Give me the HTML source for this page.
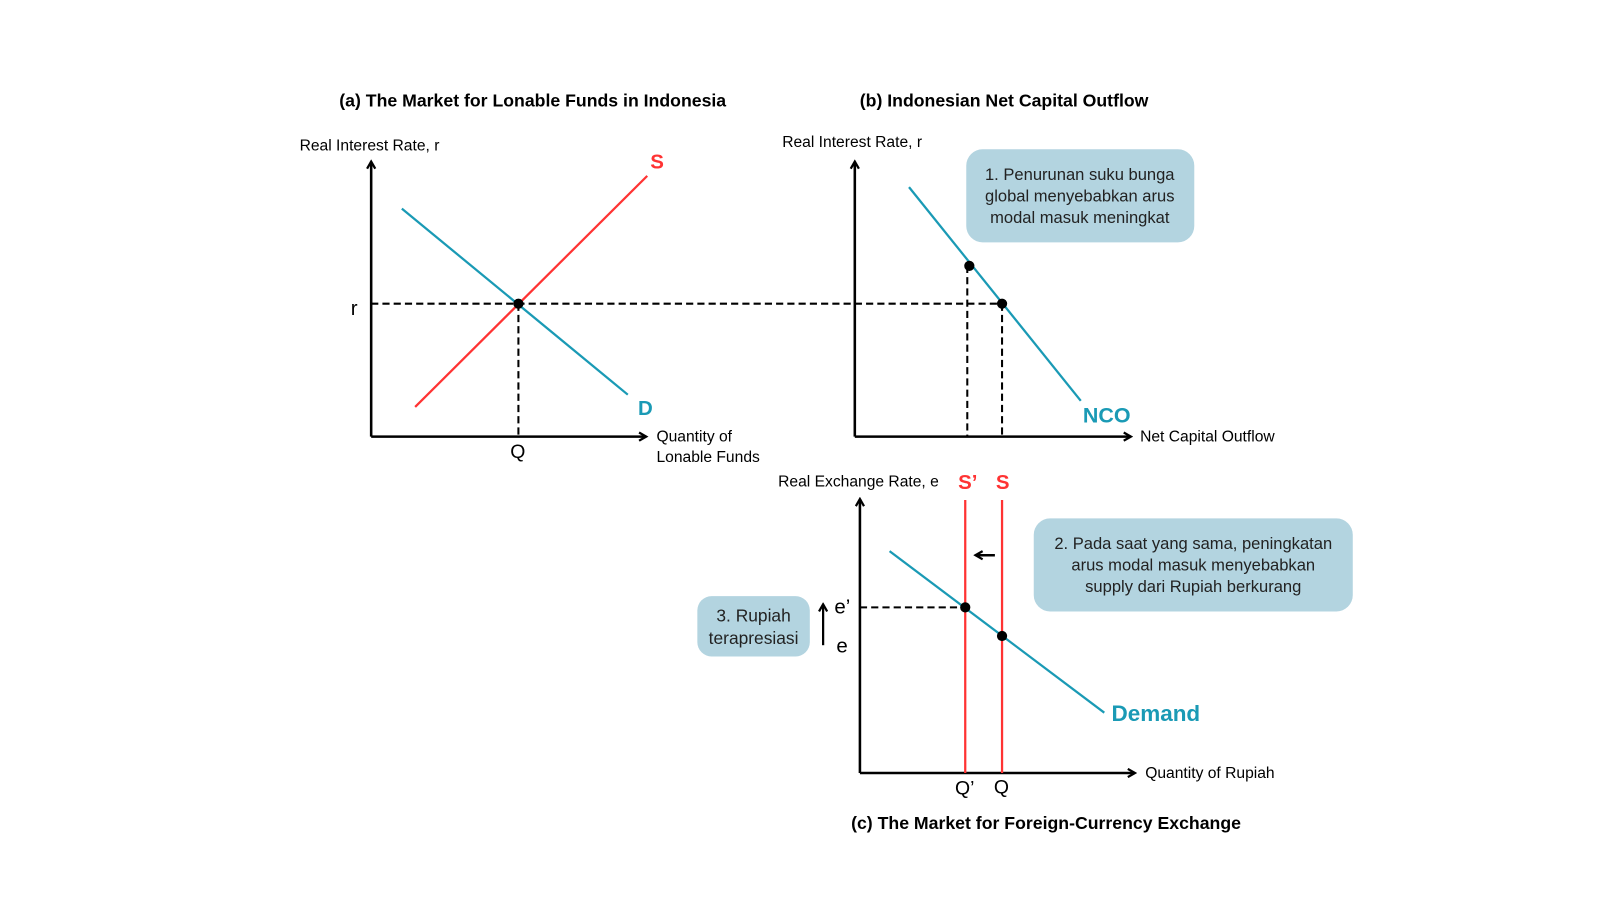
<!DOCTYPE html>
<html><head><meta charset="utf-8"><style>
html,body{margin:0;padding:0;background:#fff;}
svg{display:block;font-family:"Liberation Sans",sans-serif;}
</style></head><body>
<svg width="1600" height="900" viewBox="0 0 1600 900" xmlns="http://www.w3.org/2000/svg">
<defs>
<marker id="ah" markerWidth="10" markerHeight="10" refX="8" refY="5" orient="auto" markerUnits="userSpaceOnUse">
<path d="M1,1 L8,5 L1,9" fill="none" stroke="#000" stroke-width="2.2"/>
</marker>
</defs>
<rect width="1600" height="900" fill="#fff"/>
<g transform="scale(1.0225)">
<!-- titles -->
<text x="521" y="104" font-size="17.3" font-weight="bold" text-anchor="middle">(a) The Market for Lonable Funds in Indonesia</text>
<text x="982" y="104" font-size="17.3" font-weight="bold" text-anchor="middle">(b) Indonesian Net Capital Outflow</text>
<text x="1023" y="811" font-size="17.3" font-weight="bold" text-anchor="middle">(c) The Market for Foreign-Currency Exchange</text>

<!-- panel a -->
<text x="293" y="147" font-size="15.3">Real Interest Rate, r</text>
<line x1="363" y1="427" x2="363" y2="158" stroke="#000" stroke-width="2.5" marker-end="url(#ah)"/>
<line x1="363" y1="427" x2="632" y2="427" stroke="#000" stroke-width="2.5" marker-end="url(#ah)"/>
<line x1="406" y1="398" x2="633" y2="172" stroke="#f33" stroke-width="2.2"/>
<line x1="393" y1="204" x2="614" y2="386" stroke="#1a9ab5" stroke-width="2.2"/>
<line x1="363" y1="297" x2="980" y2="297" stroke="#000" stroke-width="2" stroke-dasharray="7,4"/>
<line x1="507" y1="297" x2="507" y2="427" stroke="#000" stroke-width="2" stroke-dasharray="7,4"/>
<circle cx="507" cy="297" r="5" fill="#000"/>
<text x="636" y="165" font-size="20" font-weight="bold" fill="#f33">S</text>
<text x="624" y="406" font-size="20" font-weight="bold" fill="#1a9ab5">D</text>
<text x="343" y="308" font-size="20">r</text>
<text x="499" y="448" font-size="19">Q</text>
<text x="642" y="432" font-size="15.3">Quantity of</text>
<text x="642" y="452" font-size="15.3">Lonable Funds</text>

<!-- panel b -->
<text x="765" y="144" font-size="15.3">Real Interest Rate, r</text>
<line x1="836" y1="427" x2="836" y2="158" stroke="#000" stroke-width="2.5" marker-end="url(#ah)"/>
<line x1="836" y1="427" x2="1106" y2="427" stroke="#000" stroke-width="2.5" marker-end="url(#ah)"/>
<line x1="889" y1="183" x2="1057" y2="392" stroke="#1a9ab5" stroke-width="2.2"/>
<line x1="946" y1="260" x2="946" y2="427" stroke="#000" stroke-width="2" stroke-dasharray="7,4"/>
<line x1="980" y1="297" x2="980" y2="427" stroke="#000" stroke-width="2" stroke-dasharray="7,4"/>
<circle cx="948" cy="260" r="5" fill="#000"/>
<circle cx="980" cy="297" r="5" fill="#000"/>
<text x="1059" y="413" font-size="21" font-weight="bold" fill="#1a9ab5">NCO</text>
<text x="1115" y="432" font-size="15.3">Net Capital Outflow</text>
<rect x="945" y="146" width="223" height="91" rx="16" fill="#b3d4e0"/>
<text font-size="16.2" text-anchor="middle" fill="#222"><tspan x="1056" y="176">1. Penurunan suku bunga</tspan><tspan x="1056" y="197">global menyebabkan arus</tspan><tspan x="1056" y="218">modal masuk meningkat</tspan></text>

<!-- panel c -->
<text x="761" y="476" font-size="15.3">Real Exchange Rate, e</text>
<text x="937" y="478" font-size="20" font-weight="bold" fill="#f33">S’</text>
<text x="974" y="478" font-size="20" font-weight="bold" fill="#f33">S</text>
<line x1="841" y1="756" x2="841" y2="488" stroke="#000" stroke-width="2.5" marker-end="url(#ah)"/>
<line x1="841" y1="756" x2="1110" y2="756" stroke="#000" stroke-width="2.5" marker-end="url(#ah)"/>
<line x1="944" y1="489" x2="944" y2="756" stroke="#f33" stroke-width="2.2"/>
<line x1="980" y1="489" x2="980" y2="756" stroke="#f33" stroke-width="2.2"/>
<line x1="870" y1="539" x2="1080" y2="697" stroke="#1a9ab5" stroke-width="2.2"/>
<line x1="841" y1="594" x2="944" y2="594" stroke="#000" stroke-width="2" stroke-dasharray="7,4"/>
<circle cx="944" cy="594" r="5" fill="#000"/>
<circle cx="980" cy="622" r="5" fill="#000"/>
<line x1="973" y1="543" x2="954" y2="543" stroke="#000" stroke-width="2.5" marker-end="url(#ah)"/>
<line x1="805" y1="631" x2="805" y2="591" stroke="#000" stroke-width="2.2" marker-end="url(#ah)"/>
<text x="816" y="600" font-size="20">e’</text>
<text x="818" y="638" font-size="20">e</text>
<text x="934" y="777" font-size="19">Q’</text>
<text x="972" y="776" font-size="19">Q</text>
<text x="1087" y="705" font-size="22" font-weight="bold" fill="#1a9ab5">Demand</text>
<text x="1120" y="761" font-size="15.3">Quantity of Rupiah</text>
<rect x="1011" y="507" width="312" height="91" rx="16" fill="#b3d4e0"/>
<text font-size="16.2" text-anchor="middle" fill="#222"><tspan x="1167" y="537">2. Pada saat yang sama, peningkatan</tspan><tspan x="1167" y="558">arus modal masuk menyebabkan</tspan><tspan x="1167" y="579">supply dari Rupiah berkurang</tspan></text>
<rect x="682" y="583" width="110" height="59" rx="14" fill="#b3d4e0"/>
<text font-size="17" text-anchor="middle" fill="#222"><tspan x="737" y="608">3. Rupiah</tspan><tspan x="737" y="630">terapresiasi</tspan></text>
</g>
</svg>
</body></html>
